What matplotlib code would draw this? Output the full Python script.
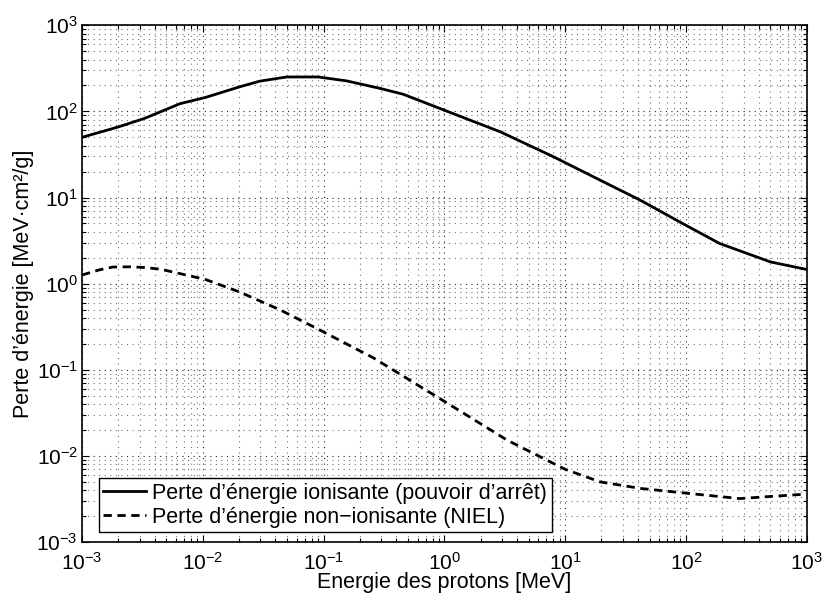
import matplotlib
matplotlib.use("Agg")
import matplotlib.pyplot as plt
from matplotlib.ticker import LogLocator, NullFormatter

plt.rcParams['font.family'] = ['Liberation Sans', 'DejaVu Sans']
plt.rcParams['mathtext.default'] = 'regular'

# proton energy [MeV] and energy loss in [MeV.cm2/g]
energie_ion = [1e-3, 2e-3, 3.3e-3, 6.5e-3, 1.05e-2, 2.0e-2, 2.95e-2,
               4.95e-2, 9.0e-2, 0.155, 0.293, 0.457, 0.92, 1.6, 2.9,
               7.9, 19.5, 42, 89, 190, 500, 980]
perte_ion = [50, 66, 83, 123, 145, 192, 224, 251, 251, 226, 185, 158,
             108, 80, 58, 30, 15.9, 9.3, 5.2, 2.93, 1.79, 1.47]

energie_niel = [1e-3, 1.4e-3, 1.8e-3, 2.5e-3, 3.3e-3, 4.5e-3, 1.05e-2,
                2.0e-2, 4.4e-2, 9.3e-2, 0.26, 1.01, 3.3, 6.2, 10, 19.5,
                42, 100, 280, 520, 980]
perte_niel = [1.26, 1.45, 1.56, 1.57, 1.54, 1.47, 1.12, 0.805, 0.494,
              0.29, 0.137, 0.0427, 0.0153, 0.0098, 0.0070, 0.0050,
              0.0042, 0.0037, 0.0032, 0.0034, 0.0036]

fig = plt.figure(figsize=(8.24, 6.01), dpi=100)
ax = fig.add_axes([0.0995, 0.098, 0.8795, 0.860])

ax.loglog(energie_ion, perte_ion, 'k-', lw=2,
          label='Perte d\u2019énergie ionisante (pouvoir d\u2019arrêt)')
ax.loglog(energie_niel, perte_niel, 'k--', lw=2, dashes=(3, 2),
          label='Perte d\u2019énergie non\u2212ionisante (NIEL)')

ax.set_xlim(1e-3, 1e3)
ax.set_ylim(1e-3, 1e3)

for axis in (ax.xaxis, ax.yaxis):
    axis.set_major_locator(LogLocator(base=10, numticks=20))
    axis.set_minor_locator(LogLocator(base=10, subs=range(2, 10), numticks=20))
    axis.set_minor_formatter(NullFormatter())

# dotted grid, one-pixel dots
ax.grid(True, which='major', color='0.15', ls=(0, (1, 4)), lw=0.8)
ax.grid(True, which='minor', color='0.45', ls=(0, (1, 4)), lw=0.8)

ax.tick_params(which='both', direction='in', top=True, right=True,
               labelsize=15, width=0.8)
ax.tick_params(axis='x', which='major', pad=7)
ax.tick_params(axis='y', which='major', pad=3)
ax.tick_params(which='major', length=5)
ax.tick_params(which='minor', length=3)
for s in ax.spines.values():
    s.set_linewidth(1.2)

ax.set_xlabel('Energie des protons [MeV]', fontsize=15.5, labelpad=-1)
ax.set_ylabel('Perte d\u2019énergie [MeV·cm²/g]', fontsize=15.5, labelpad=2)

leg = ax.legend(loc='lower left', bbox_to_anchor=(0.023, 0.019),
                borderaxespad=0, fontsize=15.5, fancybox=False,
                framealpha=1, edgecolor='k', handlelength=2.0,
                borderpad=0.2, labelspacing=0.15, handletextpad=0.3)
leg.get_frame().set_linewidth(1.0)

fig.savefig('out.png', dpi=100)
